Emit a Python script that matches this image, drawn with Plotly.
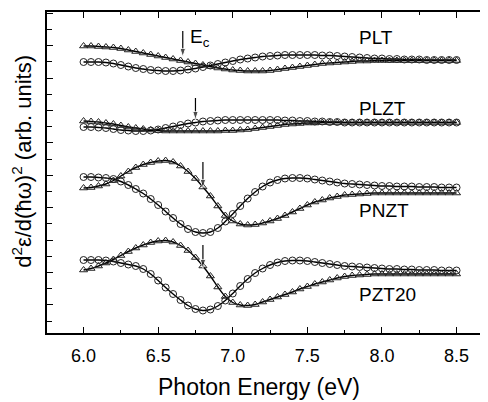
import plotly.graph_objects as go

# Photon energy grid (eV)
energy = [6.00, 6.05, 6.10, 6.15, 6.20, 6.25, 6.30, 6.35, 6.40, 6.45,
          6.50, 6.55, 6.60, 6.65, 6.70, 6.75, 6.80, 6.85, 6.90, 6.95,
          7.00, 7.05, 7.10, 7.15, 7.20, 7.25, 7.30, 7.35, 7.40, 7.45,
          7.50, 7.55, 7.60, 7.65, 7.70, 7.75, 7.80, 7.85, 7.90, 7.95,
          8.00, 8.05, 8.10, 8.15, 8.20, 8.25, 8.30, 8.35, 8.40, 8.45, 8.50]

# d2eps/d(hw)2, arbitrary units, spectra vertically offset
plt_tri = [287, 287, 286.5, 286, 285.5, 284.5, 283, 281.5, 280, 278.5,
           277, 275.5, 274, 272.5, 271, 269.5, 268, 266.5, 265, 264,
           263, 262.5, 262, 262, 262, 262.5, 263.5, 264.5, 265.5, 266.5,
           267.5, 268.5, 269.5, 270, 270.5, 271, 271.5, 272, 272, 272.5,
           272.5, 272.5, 272.5, 272.5, 272.5, 272.5, 272.5, 272.5, 272.5, 272.5, 272.5]
plt_circ = [271, 271, 271, 270.5, 269.5, 268, 266.5, 265, 264, 263,
            262.5, 262, 262, 262.5, 263.5, 264.5, 266, 267.5, 269, 270.5,
            272, 273.5, 274.5, 275.5, 276.5, 277, 277.5, 278, 278, 278,
            278, 278, 277.5, 277.5, 277, 276.5, 276, 275.5, 275, 274.5,
            274.5, 274, 274, 273.5, 273.5, 273.5, 273, 273, 273, 273, 273]

plzt_tri = [212, 211.5, 211, 210, 209, 207.5, 206, 205, 204, 203,
            202.5, 202, 202, 202, 202, 202, 202, 202, 202, 202.5,
            202.5, 203, 203.5, 204.5, 205.5, 206.5, 207.5, 208.5, 209, 209.5,
            210, 210, 210.5, 210.5, 210.5, 210.5, 210.5, 210.5, 210.5, 210.5,
            210.5, 210.5, 210.5, 210.5, 210.5, 210.5, 210.5, 210.5, 210.5, 210.5, 210.5]
plzt_circ = [206, 206, 205.5, 205, 204, 203, 202.5, 202, 202, 202.5,
             203.5, 205, 206.5, 208, 209.5, 210.5, 211.5, 212, 212.5, 213,
             213, 213, 213, 213, 213, 213, 213, 212.5, 212.5, 212,
             212, 211.5, 211.5, 211, 211, 210.5, 210.5, 210.5, 210.5, 210.5,
             210.5, 210.5, 210.5, 210.5, 210.5, 210.5, 210.5, 210.5, 210.5, 210.5, 210.5]

pnzt_tri = [145, 145.5, 147, 149, 152.5, 157, 161.5, 165.5, 168.5, 170.5,
            172, 172.5, 171, 167, 161.5, 154.5, 146, 137, 127, 117.5,
            112, 109, 108, 108.5, 110, 112, 114.5, 117.5, 121, 124.5,
            128, 131, 133, 135, 136.5, 138, 138.5, 139, 139.5, 140,
            140, 140, 140, 140, 140, 140, 140, 140, 140, 140, 140]
pnzt_circ = [156, 156, 155.5, 155, 154, 151.5, 148, 144, 139.5, 134,
             128, 121.5, 115, 109, 104, 101, 100, 101, 105, 111.5,
             119, 127, 134.5, 141, 146.5, 150.5, 153, 154.5, 155, 155,
             154.5, 153.5, 152.5, 151.5, 150.5, 149.5, 149, 148.5, 148, 147.5,
             147, 147, 146.5, 146.5, 146.5, 146, 146, 146, 145.5, 145.5, 145.5]

pzt20_tri = [63, 64.5, 67, 70, 73.5, 77.5, 81.5, 85, 88, 90.5,
             92, 92.5, 91, 87.5, 82.5, 75.5, 67, 57, 46, 36.5,
             30.5, 28, 27.5, 28.5, 31, 33.5, 36, 38.5, 41, 44,
             46.5, 49, 51, 53, 55, 56.5, 57.5, 58, 58.5, 59,
             59, 59, 59, 59, 59, 59, 59, 59, 59, 59, 59]
pzt20_circ = [73, 73, 73, 72.5, 71.5, 70, 68.5, 67, 64, 59,
              52.5, 45.5, 39, 33, 27.5, 24, 22.5, 23.5, 27, 32.5,
              39.5, 47, 54, 60, 64.5, 68, 70.5, 72, 72.5, 72.5,
              72, 71, 70, 69, 68, 67, 66.5, 66, 65.5, 65,
              64.5, 64, 64, 63.5, 63.5, 63, 63, 63, 62.5, 62.5, 62.5]

samples = ["PLT", "PLZT", "PNZT", "PZT20"]
label_y = [296, 225, 123, 39]
# E_c arrow energies and (tail, head) levels
ec_energy = [6.665, 6.75, 6.80, 6.80]
ec_tail = [302, 235, 171, 88]
ec_head = [276, 213, 145, 65]

series = [(plt_tri, plt_circ), (plzt_tri, plzt_circ),
          (pnzt_tri, pnzt_circ), (pzt20_tri, pzt20_circ)]

fig = go.Figure()
for tri, circ in series:
    for ys in (tri, circ):
        fig.add_trace(go.Scatter(x=energy, y=ys, mode="lines",
                                 line=dict(color="black", width=1.4, shape="spline"),
                                 showlegend=False, hoverinfo="skip"))
    fig.add_trace(go.Scatter(x=energy, y=circ, mode="markers",
                             marker=dict(symbol="circle-open", size=7,
                                         color="#222", line=dict(width=1)),
                             showlegend=False))
    fig.add_trace(go.Scatter(x=energy, y=tri, mode="markers",
                             marker=dict(symbol="triangle-up-open", size=7,
                                         color="#222", line=dict(width=1)),
                             showlegend=False))

# E_c arrows: shaft plus arrow-head marker pointing along the shaft
for ex, t, h in zip(ec_energy, ec_tail, ec_head):
    fig.add_trace(go.Scatter(x=[ex, ex], y=[t, h], mode="lines+markers",
                             line=dict(color="black", width=1.2),
                             marker=dict(symbol="arrow", angleref="previous",
                                         size=[0, 9], color="black"),
                             showlegend=False, hoverinfo="skip"))

annotations = []
for name, ly in zip(samples, label_y):
    annotations.append(dict(x=7.833, y=ly, text=name, showarrow=False,
                            xanchor="left", yanchor="middle",
                            font=dict(size=19, color="black")))
annotations.append(dict(x=6.70, y=295, text="E<sub>c</sub>", showarrow=False,
                        xanchor="left", yanchor="middle",
                        font=dict(size=19, color="black")))
annotations.append(dict(xref="paper", yref="paper", x=0.482, y=-0.168,
                        text="Photon Energy (eV)", showarrow=False,
                        xanchor="center", yanchor="middle",
                        font=dict(size=23, color="black")))
annotations.append(dict(xref="paper", yref="paper", x=-0.057, y=0.536,
                        text="d<sup>2</sup>ε/d(ħω)<sup>2</sup> (arb. units)",
                        textangle=-90, showarrow=False,
                        xanchor="center", yanchor="middle",
                        font=dict(size=22, color="black")))

# The page body keeps an 8 px default margin, so the figure is sized to fit
fig.update_layout(
    width=480, height=394,
    margin=dict(l=39, r=1, t=4, b=69),
    paper_bgcolor="white", plot_bgcolor="white",
    font=dict(family="Liberation Sans, Arial, sans-serif", color="black"),
    annotations=annotations,
    showlegend=False,
)
fig.update_xaxes(
    range=[5.755, 8.704], showgrid=False, zeroline=False, automargin=False,
    showline=True, linecolor="black", linewidth=1.5, mirror="ticks",
    ticks="inside", ticklen=6, tickwidth=1, tickcolor="black",
    tick0=6.0, dtick=0.5, tickformat=".1f",
    minor=dict(ticks="inside", ticklen=3, dtick=0.25, tickcolor="black"),
    tickfont=dict(size=18, color="black"), ticklabelstandoff=6,
)
fig.update_yaxes(
    range=[0, 321], showgrid=False, zeroline=False, automargin=False,
    showline=True, linecolor="black", linewidth=1.5, mirror="ticks",
    ticks="inside", ticklen=6, tickwidth=1, tickcolor="black",
    tick0=28.2, dtick=32.4, showticklabels=False,
    minor=dict(ticks="inside", ticklen=5, tick0=12, dtick=32.4, tickcolor="black"),
)
fig.write_html("out.html")
